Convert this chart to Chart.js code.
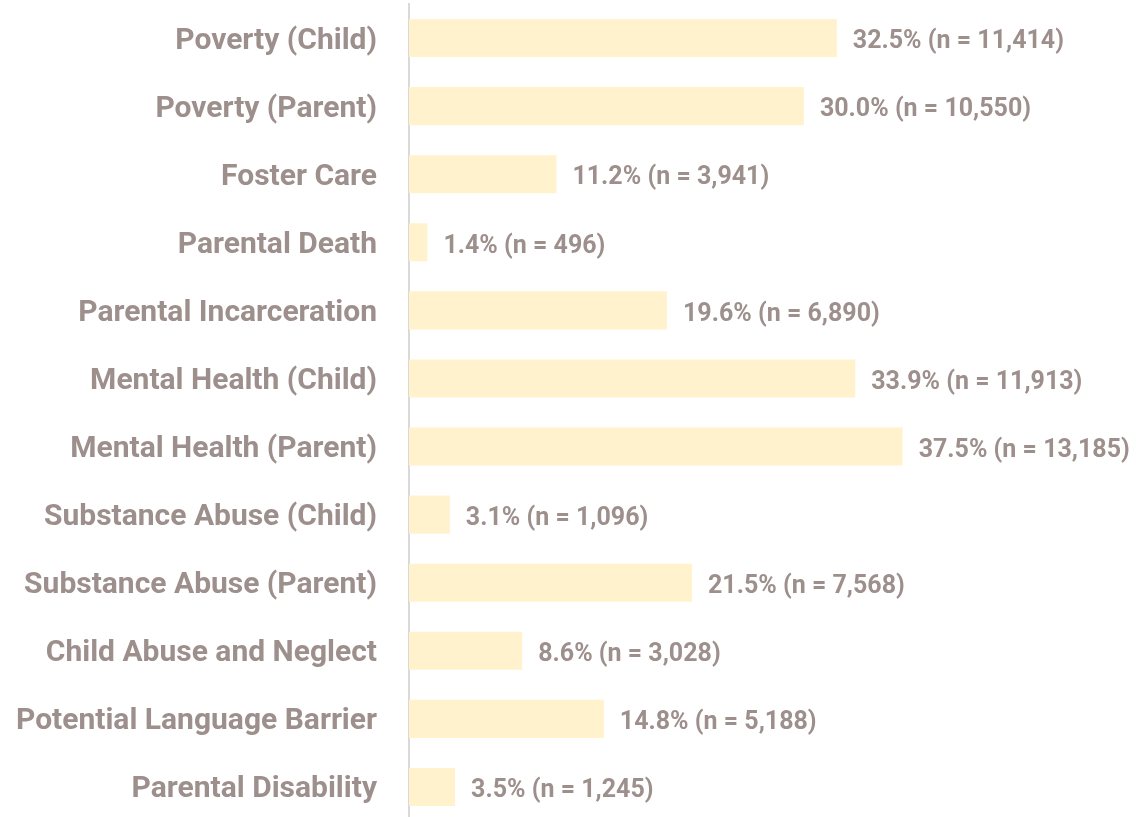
<!DOCTYPE html>
<html>
<head>
<meta charset="utf-8">
<script src="https://cdn.jsdelivr.net/npm/chart.js@4/dist/chart.umd.min.js"></script>
<style>
  html, body { margin: 0; padding: 0; background: #ffffff; overflow: hidden; }
  #wrap { width: 1136px; height: 821px; }
</style>
</head>
<body>
<div id="wrap"><canvas id="riskChart" width="1136" height="821"></canvas></div>
<script>
// Categories, top to bottom
const categories = [
    'Poverty (Child)',
    'Poverty (Parent)',
    'Foster Care',
    'Parental Death',
    'Parental Incarceration',
    'Mental Health (Child)',
    'Mental Health (Parent)',
    'Substance Abuse (Child)',
    'Substance Abuse (Parent)',
    'Child Abuse and Neglect',
    'Potential Language Barrier',
    'Parental Disability'
];

// Percent of cases
const percents = [32.5, 30.0, 11.2, 1.4, 19.6, 33.9, 37.5, 3.1, 21.5, 8.6, 14.8, 3.5];

// Case counts
const counts = [11414, 10550, 3941, 496, 6890, 11913, 13185, 1096, 7568, 3028, 5188, 1245];

const textColor = '#9d8f8c';
const barColor = '#fff2cc';
const fontFamily = 'Roboto, "Liberation Sans", sans-serif';

// Draws "xx.x% (n = N)" to the right of each bar
const valueLabels = {
    id: 'valueLabels',
    afterDatasetsDraw(chart) {
        const ctx = chart.ctx;
        const meta = chart.getDatasetMeta(0);
        ctx.save();
        ctx.fillStyle = textColor;
        ctx.font = 'bold 25px ' + fontFamily;
        ctx.textAlign = 'left';
        ctx.textBaseline = 'middle';
        meta.data.forEach(function(bar, i) {
            const txt = percents[i].toFixed(1) + '% (n = ' + counts[i].toLocaleString('en-US') + ')';
            ctx.fillText(txt, bar.x + 16, bar.y + 4);
        });
        ctx.restore();
    }
};

document.addEventListener('DOMContentLoaded', function() {
    const ctx = document.getElementById('riskChart').getContext('2d');
    new Chart(ctx, {
        type: 'bar',
        data: {
            labels: categories,
            datasets: [{
                data: percents,
                backgroundColor: barColor,
                borderWidth: 0,
                categoryPercentage: 0.56,
                barPercentage: 1.0
            }]
        },
        options: {
            indexAxis: 'y',
            responsive: false,
            animation: false,
            layout: { padding: { top: 4, right: 3, bottom: 0, left: 0 } },
            plugins: {
                legend: { display: false },
                tooltip: { enabled: false }
            },
            scales: {
                x: {
                    min: 0,
                    max: 55,
                    display: false
                },
                y: {
                    grid: { display: false, drawTicks: false },
                    border: { display: true, color: '#d9d9d9', width: 2 },
                    ticks: {
                        color: textColor,
                        padding: 32,
                        labelOffset: 3,
                        font: { family: fontFamily, size: 30, weight: 'bold' }
                    },
                    // fixed label column, and keep label height from pushing the plot area in
                    afterFit(scale) {
                        scale.width = 409;
                        scale.paddingTop = 0;
                        scale.paddingBottom = 0;
                    }
                }
            }
        },
        plugins: [valueLabels]
    });
});
</script>
</body>
</html>
